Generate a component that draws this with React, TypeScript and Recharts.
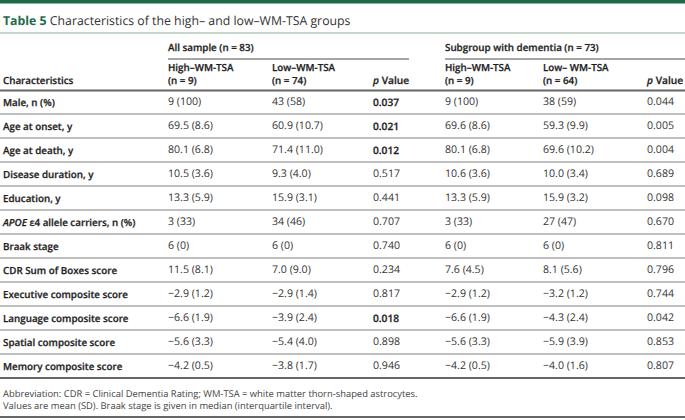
import React from 'react';
import { ScatterChart, Scatter, XAxis, YAxis } from 'recharts';

// ---------- data ----------
const TITLE_LABEL = 'Table 5';
const TITLE_TEXT = 'Characteristics of the high– and low–WM-TSA groups';
const GROUPS = ['All sample (n = 83)', 'Subgroup with dementia (n = 73)'];
const COLUMN_NAMES = ['High–WM-TSA', 'Low–WM-TSA', 'p Value', 'High–WM-TSA', 'Low– WM-TSA', 'p Value'];
const COLUMN_NS = ['(n = 9)', '(n = 74)', '', '(n = 9)', '(n = 64)', ''];
const ROW_HEADER = 'Characteristics';
const CHARACTERISTICS = [
  'Male, n (%)',
  'Age at onset, y',
  'Age at death, y',
  'Disease duration, y',
  'Education, y',
  'APOE ε4 allele carriers, n (%)',
  'Braak stage',
  'CDR Sum of Boxes score',
  'Executive composite score',
  'Language composite score',
  'Spatial composite score',
  'Memory composite score',
];
const ALL_HIGH = ['9 (100)', '69.5 (8.6)', '80.1 (6.8)', '10.5 (3.6)', '13.3 (5.9)', '3 (33)', '6 (0)', '11.5 (8.1)', '−2.9 (1.2)', '−6.6 (1.9)', '−5.6 (3.3)', '−4.2 (0.5)'];
const ALL_LOW = ['43 (58)', '60.9 (10.7)', '71.4 (11.0)', '9.3 (4.0)', '15.9 (3.1)', '34 (46)', '6 (0)', '7.0 (9.0)', '−2.9 (1.4)', '−3.9 (2.4)', '−5.4 (4.0)', '−3.8 (1.7)'];
const ALL_P = ['0.037', '0.021', '0.012', '0.517', '0.441', '0.707', '0.740', '0.234', '0.817', '0.018', '0.898', '0.946'];
const ALL_P_BOLD = [true, true, true, false, false, false, false, false, false, true, false, false];
const DEM_HIGH = ['9 (100)', '69.6 (8.6)', '80.1 (6.8)', '10.6 (3.6)', '13.3 (5.9)', '3 (33)', '6 (0)', '7.6 (4.5)', '−2.9 (1.2)', '−6.6 (1.9)', '−5.6 (3.3)', '−4.2 (0.5)'];
const DEM_LOW = ['38 (59)', '59.3 (9.9)', '69.6 (10.2)', '10.0 (3.4)', '15.9 (3.2)', '27 (47)', '6 (0)', '8.1 (5.6)', '−3.2 (1.2)', '−4.3 (2.4)', '−5.9 (3.9)', '−4.0 (1.6)'];
const DEM_P = ['0.044', '0.005', '0.004', '0.689', '0.098', '0.670', '0.811', '0.796', '0.744', '0.042', '0.853', '0.807'];
const DEM_P_BOLD = [false, false, false, false, false, false, false, false, false, false, false, false];
const FOOTNOTES = [
  'Abbreviation: CDR = Clinical Dementia Rating; WM-TSA = white matter thorn-shaped astrocytes.',
  'Values are mean (SD). Braak stage is given in median (interquartile interval).',
];

// ---------- layout ----------
const W = 685;
const H = 420;
const FONT = "'Open Sans', 'Noto Sans', sans-serif";
const GREEN = '#1f6b48';
const LABEL_W = 165;
const COL_X = [168, 272, 373, 445, 543, 647];
const ROW_HALF = 12;
const TEXT = '#333333';
const HEAD = '#1e1e1e';
const BOLD_SIZE = 9.8;
const BOLD_W = 600;
const VALUE_SIZE = 10.6;

const COLUMNS = [ALL_HIGH, ALL_LOW, ALL_P, DEM_HIGH, DEM_LOW, DEM_P];
const BOLDS = [null, null, ALL_P_BOLD, null, null, DEM_P_BOLD];
const seriesData = COLUMNS.map((col, c) =>
  CHARACTERISTICS.map((name, i) => ({
    name,
    x: COL_X[c],
    text: col[i],
    bold: BOLDS[c] ? BOLDS[c]![i] : false,
  }))
);

const boldStyle = { fontWeight: BOLD_W, stroke: HEAD, strokeWidth: 0.25 } as const;

const CellText = (props: any) => {
  const { cx, cy, payload } = props;
  return (
    <text x={cx} y={cy} dominantBaseline="central" fontFamily={FONT}
      fontSize={payload.bold ? 10.2 : VALUE_SIZE}
      style={payload.bold ? boldStyle : { fontWeight: 400 }} fill={payload.bold ? HEAD : TEXT}>
      {payload.text}
    </text>
  );
};

const RowTick = (props: any) => {
  const { y, payload, index } = props;
  const v: string = payload.value;
  const isLast = index === CHARACTERISTICS.length - 1;
  let label: React.ReactNode = v;
  if (v.startsWith('APOE')) {
    label = (
      <>
        <tspan fontStyle="italic">APOE</tspan>
        <tspan> ε</tspan>
        <tspan>{v.slice(6)}</tspan>
      </>
    );
  }
  return (
    <g>
      <text x={3} y={y} dominantBaseline="central" fontFamily={FONT} fontSize={BOLD_SIZE} style={boldStyle} fill={HEAD}>
        {label}
      </text>
      <line x1={0} x2={W} y1={y + ROW_HALF} y2={y + ROW_HALF}
        stroke={isLast ? '#666' : '#a8a8a8'} strokeWidth={isLast ? 2 : 1.3} />
    </g>
  );
};

const HeadText = ({ x, y, children, size = BOLD_SIZE }: any) => (
  <text x={x} y={y} dominantBaseline="central" fontSize={size} style={boldStyle} fill={HEAD}>{children}</text>
);

const Decor = () => (
  <g fontFamily={FONT}>
    <rect x={0} y={0} width={W} height={3.5} fill={GREEN} />
    <text x={3} y={20} dominantBaseline="central" fontSize={12.3}>
      <tspan fontWeight={700} fill={GREEN}>{TITLE_LABEL}</tspan>
      <tspan fill="#333"> {TITLE_TEXT}</tspan>
    </text>
    <line x1={0} x2={W} y1={33} y2={33} stroke="#b3c8bb" strokeWidth={1.3} />
    {GROUPS.map((g, k) => (
      <g key={g}>
        <HeadText x={COL_X[k * 3]} y={47}>{g}</HeadText>
        <line x1={COL_X[k * 3]} x2={k === 0 ? 409 : W} y1={59} y2={59} stroke="#888" strokeWidth={1.3} />
      </g>
    ))}
    <HeadText x={3} y={80}>{ROW_HEADER}</HeadText>
    {COLUMN_NAMES.map((n, c) => {
      if (n.startsWith('p ')) {
        return (
          <HeadText key={c} x={COL_X[c]} y={80} size={BOLD_SIZE + 0.4}>
            <tspan fontStyle="italic">p</tspan>
            <tspan>{n.slice(1)}</tspan>
          </HeadText>
        );
      }
      return (
        <g key={c}>
          <HeadText x={COL_X[c]} y={67.5}>{n}</HeadText>
          <HeadText x={COL_X[c]} y={80}>{COLUMN_NS[c]}</HeadText>
        </g>
      );
    })}
    <line x1={0} x2={W} y1={90.5} y2={90.5} stroke="#666" strokeWidth={2} />
    {FOOTNOTES.map((f, i) => (
      <text key={i} x={3} y={393.5 + i * 12} dominantBaseline="central" fontSize={9.4} fill="#444">{f}</text>
    ))}
    <line x1={0} x2={W} y1={417} y2={417} stroke="#333" strokeWidth={1.6} />
  </g>
);

export default function App() {
  return (
    <div style={{ position: 'absolute', left: 0, top: 0, width: W, height: H, background: '#fff', textRendering: 'geometricPrecision' }}>
      <ScatterChart width={W} height={H} margin={{ top: 102, right: 0, bottom: 54, left: 0 }}>
        <XAxis type="number" dataKey="x" domain={[LABEL_W, W]} hide allowDataOverflow />
        <YAxis type="category" dataKey="name" scale="point" width={LABEL_W} reversed
          allowDuplicatedCategory={false} axisLine={false} tickLine={false} interval={0}
          tick={(p: any) => <RowTick {...p} />} />
        {seriesData.map((d, c) => (
          <Scatter key={c} data={d} isAnimationActive={false} shape={(p: any) => <CellText {...p} />} />
        ))}
        <Decor />
      </ScatterChart>
    </div>
  );
}
